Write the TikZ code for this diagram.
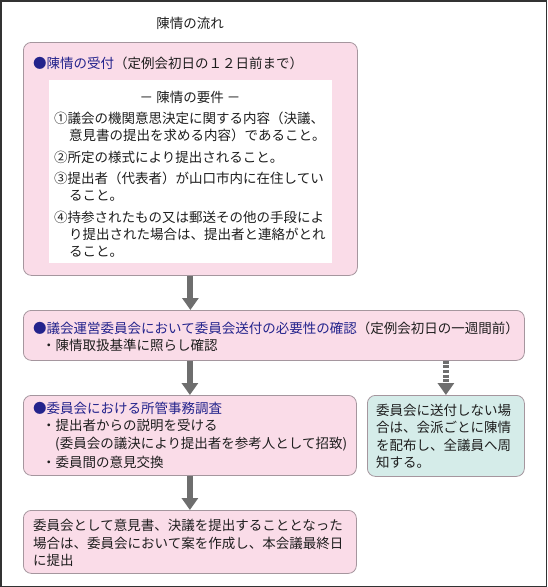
\documentclass[tikz,border=0pt]{standalone}
\usepackage{fontspec}
\setmainfont{Noto Sans CJK JP}
\usetikzlibrary{arrows.meta}
\definecolor{pinkfill}{RGB}{250,220,232}
\definecolor{boxline}{RGB}{165,150,158}
\definecolor{tealfill}{RGB}{213,236,233}
\definecolor{navy}{RGB}{35,35,140}
\definecolor{arrowgray}{RGB}{110,110,110}
\definecolor{framegray}{RGB}{50,50,50}
\definecolor{inkgray}{RGB}{30,30,30}
\tikzset{
  box/.style={draw=boxline, line width=0.8pt, rounded corners=8pt, anchor=north west, inner sep=0pt},
  pinkbox/.style={box, fill=pinkfill},
  tealbox/.style={box, fill=tealfill},
  txt/.style={anchor=base west, inner sep=0pt, text=inkgray, font=\fontsize{13.5}{17}\selectfont},
  flow/.style={draw=arrowgray, line width=6pt, -{Triangle[width=16pt,length=12pt]}},
  flowdash/.style={flow, dash pattern=on 3pt off 1.6pt}
}
\newcommand{\hd}[1]{\textcolor{navy}{#1}}
\begin{document}
\begin{tikzpicture}[x=1pt, y=-1pt]
\useasboundingbox (0,0) rectangle (547,587);
\draw[framegray, line width=1.5pt] (0.75,0.75) rectangle (546.25,586.25);
\node[txt, anchor=base] (title) at (190,28) {陳情の流れ};

\node[pinkbox, minimum width=334pt, minimum height=233pt] (recv) at (23,42) {};
\node[txt] (recvhd) at (33,68) {\hd{●陳情の受付}（定例会初日の１２日前まで）};
\node[anchor=north west, fill=white, inner sep=0pt, minimum width=283pt, minimum height=183pt] (reqs) at (49,80) {};
\node[txt, anchor=base] (reqhd) at (190,102) {－ 陳情の要件 －};
\node[txt] (req1) at (54,123) {①議会の機関意思決定に関する内容（決議、};
\node[txt] (req1b) at (69,140) {意見書の提出を求める内容）であること。};
\node[txt] (req2) at (54,162) {②所定の様式により提出されること。};
\node[txt] (req3) at (54,183) {③提出者（代表者）が山口市内に在住してい};
\node[txt] (req3b) at (69,200) {ること。};
\node[txt] (req4) at (54,222) {④持参されたもの又は郵送その他の手段によ};
\node[txt] (req4b) at (69,239) {り提出された場合は、提出者と連絡がとれ};
\node[txt] (req4c) at (69,256) {ること。};

\node[pinkbox, minimum width=501pt, minimum height=50pt] (chk) at (23,310) {};
\node[txt] (chkhd) at (33,333) {\hd{●議会運営委員会において委員会送付の必要性の確認}（定例会初日の一週間前）};
\node[txt] (chk1) at (42,350) {・陳情取扱基準に照らし確認};

\node[pinkbox, minimum width=333pt, minimum height=80pt] (inv) at (23,395) {};
\node[txt] (invhd) at (33,413) {\hd{●委員会における所管事務調査}};
\node[txt] (inv1) at (42,430) {・提出者からの説明を受ける};
\node[txt] (inv1b) at (55,448) {(委員会の議決により提出者を参考人として招致)};
\node[txt] (inv2) at (42,467) {・委員間の意見交換};

\node[tealbox, minimum width=157pt, minimum height=81pt] (nosend) at (367,395) {};
\node[txt] (nosend1) at (376,415) {委員会に送付しない場};
\node[txt] (nosend2) at (376,432) {合は、会派ごとに陳情};
\node[txt] (nosend3) at (376,450) {を配布し、全議員へ周};
\node[txt] (nosend4) at (376,467) {知する。};

\node[pinkbox, minimum width=333pt, minimum height=63pt] (sub) at (23,510) {};
\node[txt] (sub1) at (33,530) {委員会として意見書、決議を提出することとなった};
\node[txt] (sub2) at (33,548) {場合は、委員会において案を作成し、本会議最終日};
\node[txt] (sub3) at (33,565) {に提出};

\draw[flow] (recv.south) -- (recv.south |- chk.north);
\draw[flow] (chk.south -| inv.north) -- (inv.north);
\draw[flowdash] (chk.south -| nosend.north) -- (nosend.north);
\draw[flow] (inv.south) -- (sub.north);
\end{tikzpicture}
\end{document}
